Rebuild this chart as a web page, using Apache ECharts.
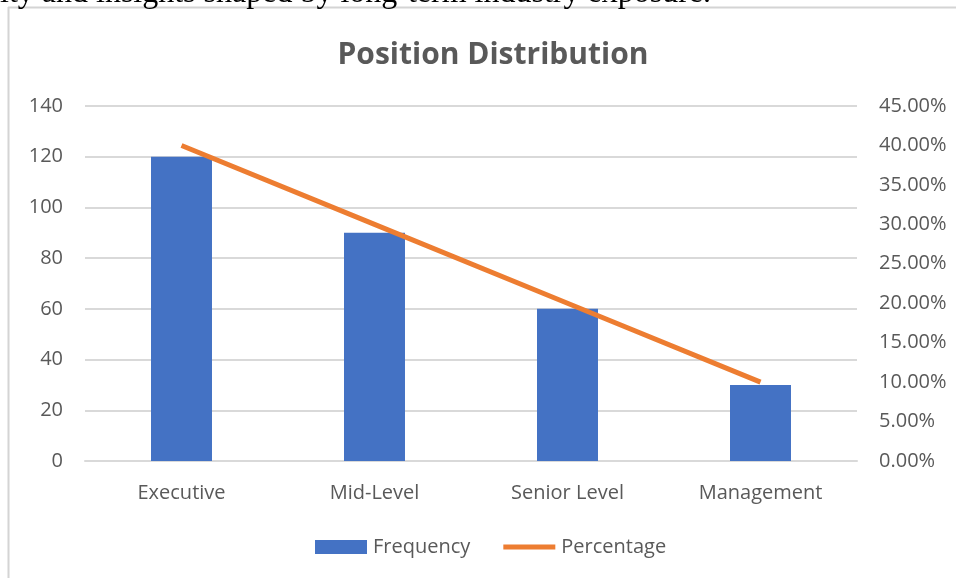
<!DOCTYPE html>
<html>
<head>
<meta charset="utf-8">
<script src="https://cdn.jsdelivr.net/npm/echarts@6/dist/echarts.min.js"></script>
<style>
  html, body { margin: 0; padding: 0; background: #fff; }
  #chart { width: 956px; height: 578px; }
</style>
</head>
<body>
<div id="chart"></div>
<script>
// Position distribution: head counts per level and their share of the total
const categories = ['Executive', 'Mid-Level', 'Senior Level', 'Management'];
const frequency = [120, 90, 60, 30];
const percentage = [0.40, 0.30, 0.20, 0.10];
const countTicks = { min: 0, max: 140, interval: 20 };
const shareTicks = { min: 0, max: 0.45, interval: 0.05 };
const captionText = 'ity and insights shaped by long-term industry exposure.';

const labelColor = '#595959';
const uiFont = '"Open Sans", sans-serif';

// Legend swatch for the line: a 5px bar centred in the icon box
// (the zero-length corner segments keep the box at full size).
const lineSwatch = 'path://M0,0 L0.001,0 M0,4.5 H52 V9.5 H0 Z M52,14 L51.999,14';

const chart = echarts.init(document.getElementById('chart'), null, { renderer: 'canvas' });

chart.setOption({
  backgroundColor: '#ffffff',
  animation: false,
  title: {
    text: 'Position Distribution',
    left: 488,
    textAlign: 'center',
    top: 35,
    textStyle: { fontFamily: uiFont, fontSize: 30, fontWeight: 'bold', color: labelColor }
  },
  graphic: [
    {
      type: 'text',
      x: 0,
      y: -6,
      silent: true,
      style: {
        text: captionText,
        fontFamily: '"Liberation Serif", "Times New Roman", serif',
        fontSize: 32,
        fill: '#000000',
        verticalAlign: 'middle'
      },
      z: 10
    },
    {
      type: 'line',
      silent: true,
      shape: { x1: 8, y1: 7.5, x2: 956, y2: 7.5 },
      style: { stroke: '#d4d4d4', lineWidth: 2 }
    },
    {
      type: 'line',
      silent: true,
      shape: { x1: 8.5, y1: 7, x2: 8.5, y2: 578 },
      style: { stroke: '#d4d4d4', lineWidth: 2 }
    }
  ],
  legend: {
    left: 315,
    top: 537,
    padding: 0,
    itemWidth: 52,
    itemHeight: 14,
    itemGap: 33,
    textStyle: { fontFamily: uiFont, fontSize: 20, color: labelColor, padding: [0, 0, 0, 1] },
    data: [
      { name: 'Frequency', icon: 'rect' },
      { name: 'Percentage', icon: lineSwatch }
    ]
  },
  grid: { left: 85, right: 99, top: 106, bottom: 117 },
  xAxis: {
    type: 'category',
    data: categories,
    axisLine: { lineStyle: { color: '#d9d9d9', width: 2 } },
    axisTick: { show: false },
    axisLabel: { margin: 22, fontFamily: uiFont, fontSize: 20, color: labelColor }
  },
  yAxis: [
    {
      type: 'value',
      min: countTicks.min,
      max: countTicks.max,
      interval: countTicks.interval,
      axisLine: { show: false },
      axisTick: { show: false },
      splitLine: { lineStyle: { color: '#d9d9d9', width: 2 } },
      axisLabel: { margin: 22, fontFamily: uiFont, fontSize: 20, color: labelColor }
    },
    {
      type: 'value',
      min: shareTicks.min,
      max: shareTicks.max,
      interval: shareTicks.interval,
      axisLine: { show: false },
      axisTick: { show: false },
      splitLine: { show: false },
      axisLabel: {
        margin: 22,
        fontFamily: uiFont,
        fontSize: 20,
        color: labelColor,
        formatter: v => (v * 100).toFixed(2) + '%'
      }
    }
  ],
  series: [
    {
      name: 'Frequency',
      type: 'bar',
      data: frequency,
      barWidth: '31.6%',
      itemStyle: { color: '#4472C4' }
    },
    {
      name: 'Percentage',
      type: 'line',
      yAxisIndex: 1,
      data: percentage,
      symbol: 'none',
      lineStyle: { color: '#ED7D31', width: 5, cap: 'butt' },
      itemStyle: { color: '#ED7D31' }
    }
  ]
});
</script>
</body>
</html>
